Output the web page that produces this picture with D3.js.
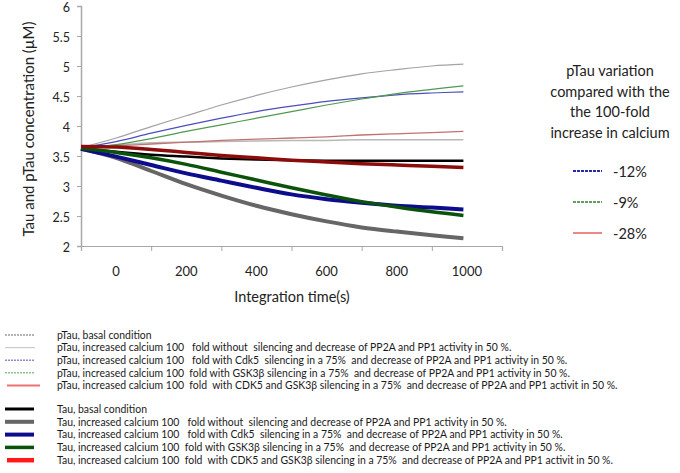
<!DOCTYPE html>
<html><head><meta charset="utf-8">
<script src="https://cdn.jsdelivr.net/npm/d3@7"></script>
<style>
html,body{margin:0;padding:0;background:#fff;}
svg{display:block;font-family:Lato,"Open Sans",sans-serif;}
.leg text{white-space:pre;font-family:"Liberation Sans Narrow",Lato,sans-serif;}
</style></head>
<body><svg id="c" width="680" height="473"></svg>
<script>
// ---- data ----
const times = [-100, 0, 100, 200, 300, 400, 500, 600, 700, 800, 900, 990];
const pTauBasal = [3.64, 3.68, 3.72, 3.73, 3.74, 3.75, 3.76, 3.76, 3.77, 3.77, 3.77, 3.77];
const pTauCa    = [3.64, 3.80, 3.99, 4.17, 4.35, 4.51, 4.65, 4.77, 4.87, 4.94, 5.00, 5.03];
const pTauCdk5  = [3.64, 3.74, 3.88, 4.01, 4.13, 4.24, 4.33, 4.41, 4.47, 4.52, 4.55, 4.57];
const pTauGsk   = [3.64, 3.69, 3.79, 3.91, 4.02, 4.13, 4.24, 4.35, 4.45, 4.54, 4.61, 4.67];
const pTauBoth  = [3.65, 3.67, 3.70, 3.73, 3.76, 3.78, 3.80, 3.82, 3.85, 3.87, 3.89, 3.91];
const tauBasal  = [3.63, 3.57, 3.52, 3.49, 3.46, 3.44, 3.43, 3.42, 3.42, 3.42, 3.42, 3.42];
const tauCa     = [3.62, 3.47, 3.25, 3.03, 2.84, 2.67, 2.53, 2.41, 2.31, 2.24, 2.18, 2.13];
const tauCdk5   = [3.62, 3.49, 3.35, 3.21, 3.09, 2.97, 2.86, 2.78, 2.72, 2.67, 2.64, 2.61];
const tauGsk    = [3.63, 3.56, 3.47, 3.36, 3.23, 3.10, 2.97, 2.85, 2.74, 2.65, 2.57, 2.51];
const tauBoth   = [3.66, 3.65, 3.61, 3.56, 3.51, 3.47, 3.43, 3.40, 3.37, 3.35, 3.33, 3.31];

const xTickValues = [-100, 100, 300, 500, 700, 900, 1100];
const xLabelValues = [0, 200, 400, 600, 800, 1000];
const yTickValues = [2, 2.5, 3, 3.5, 4, 4.5, 5, 5.5, 6];

const legendLabels = [
 "pTau, basal condition",
 "pTau, increased calcium 100   fold without  silencing and decrease of PP2A and PP1 activity in 50 %.",
 "pTau, increased calcium 100   fold with Cdk5  silencing in a 75%  and decrease of PP2A and PP1 activity in 50 %.",
 "pTau, increased calcium 100  fold with GSK3\u03b2 silencing in a 75%  and decrease of PP2A and PP1 activity in 50 %.",
 "pTau, increased calcium 100  fold  with CDK5 and GSK3\u03b2 silencing in a 75%  and decrease of PP2A and PP1 activit in 50 %.",
 "Tau, basal condition",
 "Tau, increased calcium 100   fold without  silencing and decrease of PP2A and PP1 activity in 50 %.",
 "Tau, increased calcium 100   fold with Cdk5  silencing in a 75%  and decrease of PP2A and PP1 activity in 50 %.",
 "Tau, increased calcium 100  fold with GSK3\u03b2 silencing in a 75%  and decrease of PP2A and PP1 activity in 50 %.",
 "Tau, increased calcium 100  fold  with CDK5 and GSK3\u03b2 silencing in a 75%  and decrease of PP2A and PP1 activit in 50 %."
];
const variationTitle = ["pTau variation", "compared with the", "the 100-fold", "increase in calcium"];
const variationLabels = ["-12%", "-9%", "-28%"];

// ---- styles ----
const series = [
 {v: pTauBasal, c: "#b8b8b8", w: 1.5, lc: "#9a9a9a", lw: 1.5, dash: "2,1"},
 {v: pTauCa,    c: "#a3a3a3", w: 1.2, lc: "#cacaca", lw: 1.2, dash: null},
 {v: pTauCdk5,  c: "#4d4dbd", w: 1.2, lc: "#8a8ad0", lw: 1.5, dash: "2,1"},
 {v: pTauGsk,   c: "#4f9a4f", w: 1.2, lc: "#8cc48c", lw: 1.5, dash: "2,1"},
 {v: pTauBoth,  c: "#c27272", w: 1.3, lc: "#ee7070", lw: 2,   dash: null},
 {v: tauBasal,  c: "#000000", w: 2.5, lc: "#000000", lw: 3,   dash: null},
 {v: tauCa,     c: "#666666", w: 4,   lc: "#666666", lw: 4,   dash: null},
 {v: tauCdk5,   c: "#0c0c8c", w: 4,   lc: "#0c0c8c", lw: 4,   dash: null},
 {v: tauGsk,    c: "#0b520b", w: 3.5, lc: "#0b520b", lw: 3.5, dash: null},
 {v: tauBoth,   c: "#8e0b0b", w: 3.5, lc: "#ff1a1a", lw: 4.5, dash: null}
];
const varStyles = [
 {c: "#2a2aa6", w: 2, dash: "3,1"},
 {c: "#2f7d2f", w: 1.6, dash: "3,1"},
 {c: "#e23a3a", w: 1.2, dash: null}
];

const svg = d3.select("#c");
const x = d3.scaleLinear().domain([-100, 1100]).range([81, 502]);
const y = d3.scaleLinear().domain([2, 6]).range([246, 6]);
const axisColor = "#a8a8a8";

// axes
const gx = svg.append("g").attr("transform", `translate(0,${y(2)})`)
  .call(d3.axisBottom(x).tickValues(xTickValues).tickSize(5).tickFormat(""));
gx.select(".domain").attr("stroke", axisColor).attr("stroke-width", 1.2);
gx.selectAll(".tick line").attr("stroke", axisColor);

const gy = svg.append("g").attr("transform", `translate(${x(-100)},0)`)
  .call(d3.axisLeft(y).tickValues(yTickValues).tickSize(4).tickPadding(7)
    .tickFormat(d => d3.format("~g")(d)));
gy.select(".domain").attr("stroke", axisColor).attr("stroke-width", 1.5);
gy.selectAll(".tick line").attr("stroke", axisColor);
gy.selectAll(".tick text").attr("font-size", 12.5).attr("fill", "#222")
  .attr("font-family", "Lato").attr("dy", "0.45em");

svg.append("g").selectAll("text").data(xLabelValues).join("text")
  .attr("x", d => x(d)).attr("y", y(2) + 30)
  .attr("text-anchor", "middle").attr("font-size", 13).attr("fill", "#222")
  .text(d => d);

svg.append("text").attr("x", 292).attr("y", 302).attr("text-anchor", "middle")
  .attr("font-size", 14.5).attr("fill", "#222").text("Integration time(s)");

svg.append("text").attr("transform", "translate(34,129) rotate(-90)")
  .attr("text-anchor", "middle").attr("font-size", 15).attr("fill", "#222")
  .text("Tau and pTau concentration (\u00b5M)");

// lines
const line = d3.line().x((d, i) => x(times[i])).y(d => y(d)).curve(d3.curveCatmullRom.alpha(0.5));
svg.append("g").selectAll("path").data(series).join("path")
  .attr("d", s => line(s.v)).attr("fill", "none")
  .attr("stroke", s => s.c).attr("stroke-width", s => s.w)
  .attr("stroke-linejoin", "round");

// right legend
const rl = svg.append("g");
rl.selectAll("text.t").data(variationTitle).join("text").attr("class", "t")
  .attr("x", 610).attr("y", (d, i) => 76 + i * 20.5)
  .attr("text-anchor", "middle").attr("font-size", 14.5).attr("fill", "#222").text(d => d);
const ri = rl.selectAll("g.i").data(variationLabels).join("g").attr("class", "i")
  .attr("transform", (d, i) => `translate(0,${171 + i * 31})`);
ri.append("line").attr("x1", 573).attr("x2", 602).attr("y1", 0).attr("y2", 0)
  .attr("stroke", (d, i) => varStyles[i].c).attr("stroke-width", (d, i) => varStyles[i].w)
  .attr("stroke-dasharray", (d, i) => varStyles[i].dash);
ri.append("text").attr("x", 613).attr("y", 5.5).attr("font-size", 14.5).attr("fill", "#222").text(d => d);

// bottom legend
const rowY = i => i < 5 ? 335 + i * 12.6 : 409 + (i - 5) * 12.8;
const bl = svg.append("g").attr("class", "leg");
const bi = bl.selectAll("g").data(legendLabels).join("g")
  .attr("transform", (d, i) => `translate(0,${rowY(i)})`);
bi.append("line").attr("x1", (d, i) => i === 4 || i === 9 ? 7 : 5)
  .attr("x2", (d, i) => i < 5 ? (i === 4 ? 40 : 35) : 34)
  .attr("y1", 0).attr("y2", 0)
  .attr("stroke", (d, i) => series[i].lc).attr("stroke-width", (d, i) => series[i].lw)
  .attr("stroke-dasharray", (d, i) => series[i].dash);
const bt = bi.append("text").attr("x", 57).attr("y", 3.8).attr("font-size", 10.8)
  .attr("fill", "#1a1a1a").text(d => d);
// fit the longest legend line to the width seen in the reference
let maxW = 0;
bt.each(function() { maxW = Math.max(maxW, this.getComputedTextLength()); });
const k = 561 / maxW;
bt.attr("transform", `translate(${57 * (1 - k)},0) scale(${k},1)`);
</script></body></html>
